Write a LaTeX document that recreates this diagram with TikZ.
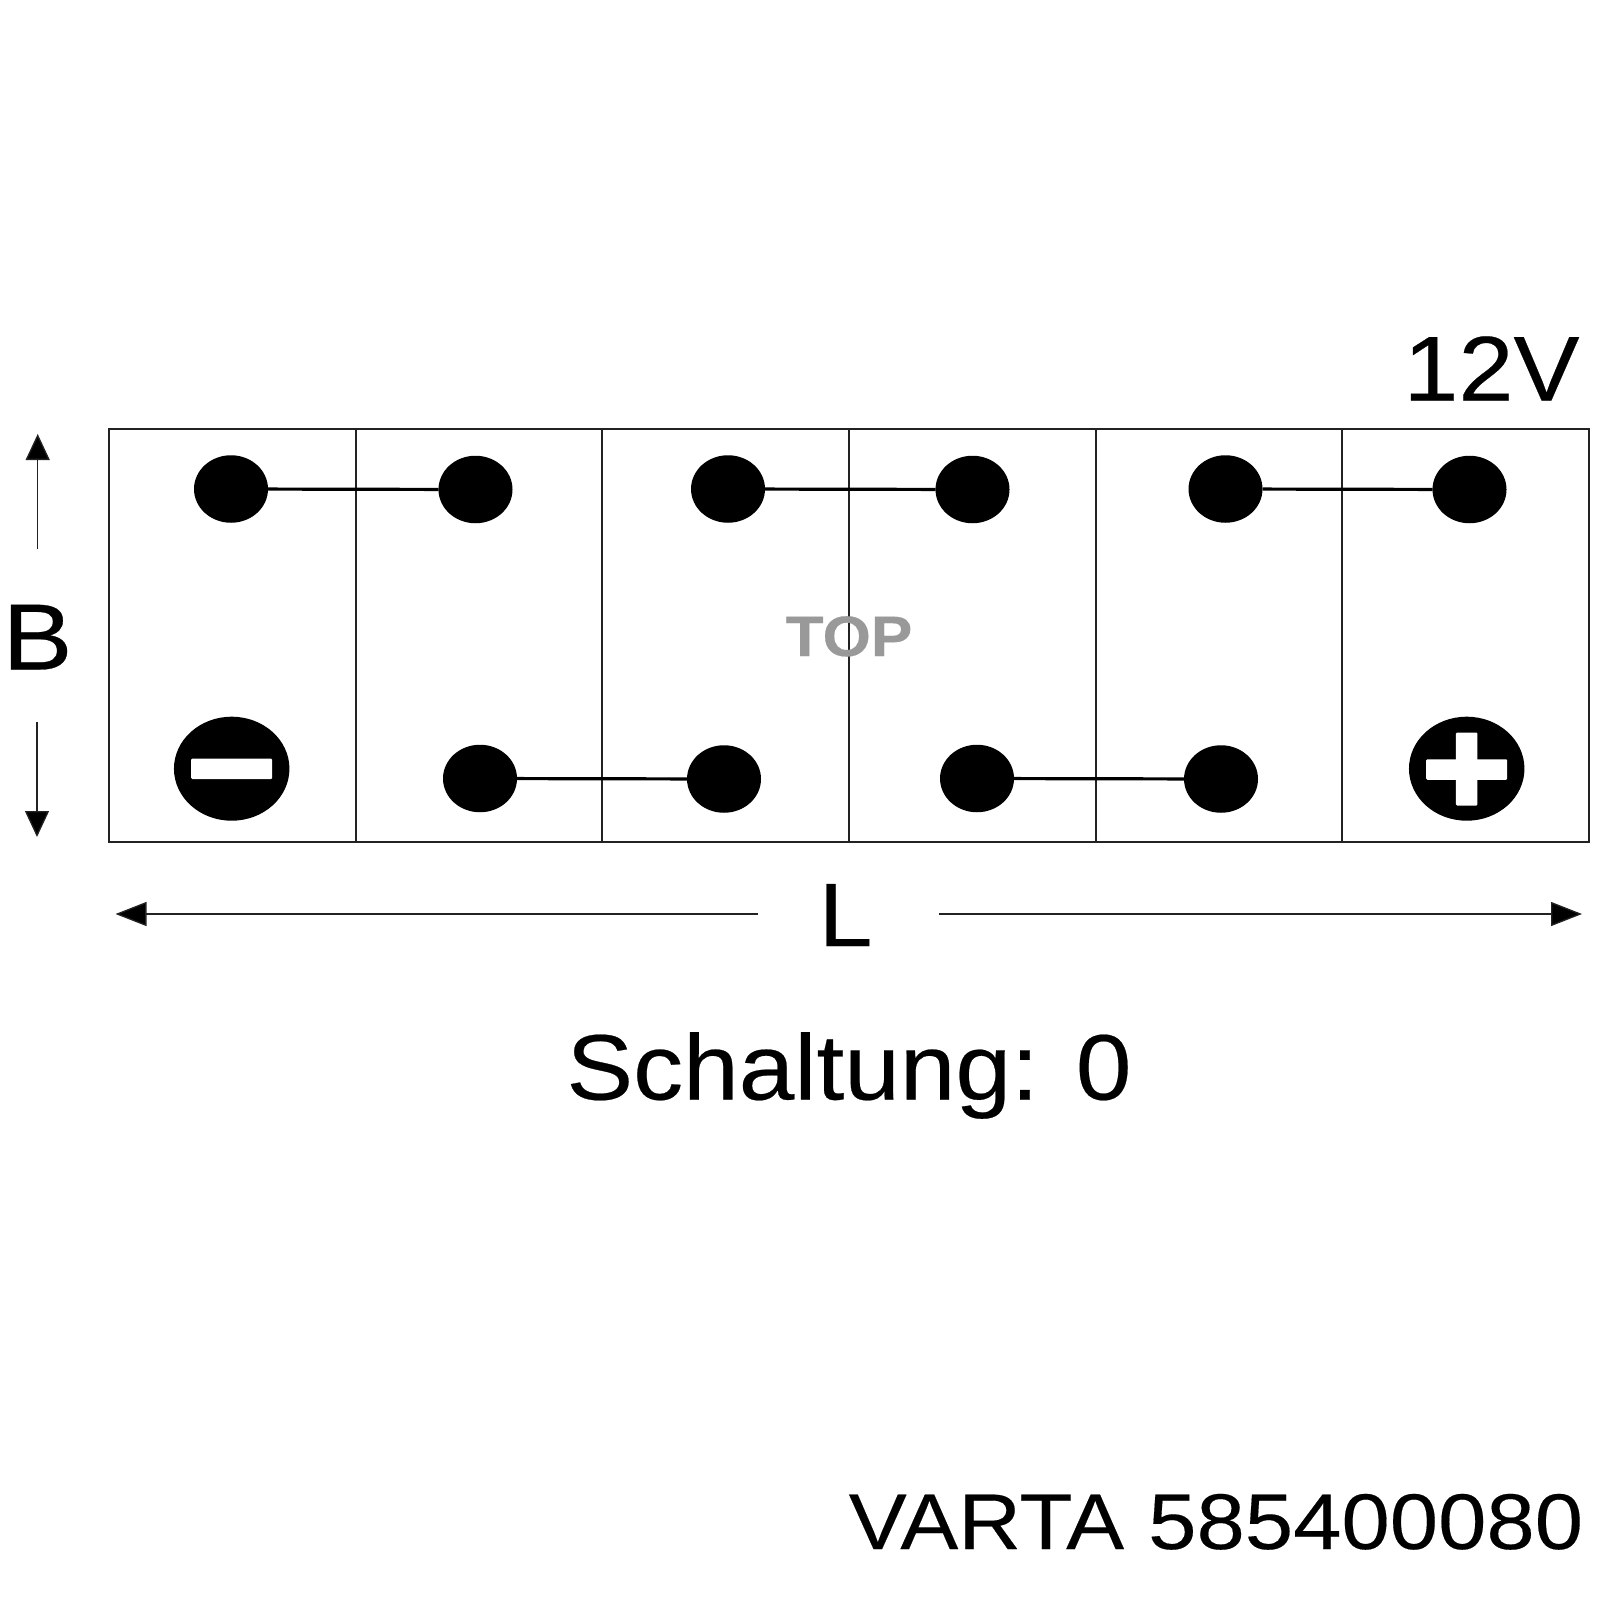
\documentclass[tikz,border=0pt]{standalone}
\usepackage{fontspec}
\setmainfont{Liberation Sans}
\newfontfamily\widefont[FakeStretch=1.075,FakeBold=0.25]{Liberation Sans}
\newfontfamily\widerfont[FakeStretch=1.10,FakeBold=0.2]{Liberation Sans}
\newfontfamily\widestfont[FakeStretch=1.12,FakeBold=0.3]{Liberation Sans}
\newfontfamily\topfont[FakeStretch=1.09,FakeBold=0.3]{Liberation Sans Bold}
\usetikzlibrary{shapes.geometric,arrows.meta}
\definecolor{linegrey}{HTML}{222222}
\definecolor{topgrey}{HTML}{999999}
\newcommand{\pxfont}[1]{\fontsize{#1pt}{#1pt}\selectfont}
\tikzset{
  x=1pt,y=-1pt,
  cell/.style={draw=linegrey,line width=1.9pt,minimum width=246.67pt,minimum height=412.4pt,inner sep=0pt,outer sep=0pt,fill=none},
  post/.style={ellipse,fill=black,draw=none,minimum width=74pt,minimum height=67.5pt,inner sep=0pt,outer sep=0pt},
  terminal/.style={ellipse,fill=black,draw=none,minimum width=115.5pt,minimum height=104pt,inner sep=0pt,outer sep=0pt},
  link/.style={draw=black,line width=3.2pt},
  bar/.style={fill=white,draw=none,rounded corners=1.2pt,inner sep=0pt,outer sep=0pt},
  dim/.style={draw=linegrey,line width=1.3pt,-{Triangle[length=26pt,width=24pt,fill=black]}},
  dimlong/.style={draw=linegrey,line width=1.3pt,-{Triangle[length=31pt,width=24pt,fill=black]}},
  label/.style={anchor=base,inner sep=0pt,outer sep=0pt,text=black},
}
\begin{document}
\begin{tikzpicture}
\useasboundingbox[fill=white] (0,0) rectangle (1600,1600);
% cells
\foreach \n [count=\i from 0] in {a,b,c,d,e,f}{
  \node[cell] (\n) at ({109+246.67*\i+123.33},635.6) {};
}
% posts
\node[post] (p1) at (231,489) {};
\node[post] (p2) at (475.5,489.5) {};
\node[post] (p3) at (728,489) {};
\node[post] (p4) at (972.5,489.5) {};
\node[post] (p5) at (1225.5,489) {};
\node[post] (p6) at (1469.5,489.5) {};
\node[post] (q1) at (480,778.5) {};
\node[post] (q2) at (724,779) {};
\node[post] (q3) at (977,778.5) {};
\node[post] (q4) at (1221,779) {};
\draw[link] (p1) -- (p2);
\draw[link] (p3) -- (p4);
\draw[link] (p5) -- (p6);
\draw[link] (q1) -- (q2);
\draw[link] (q3) -- (q4);
% terminals
\node[terminal] (minus) at (231.7,768.7) {};
\node[bar,minimum width=81pt,minimum height=20.5pt] (minusbar) at (231.7,768.8) {};
\node[terminal] (plus) at (1466.7,768.7) {};
\node[bar,minimum width=81pt,minimum height=20.5pt] (plush) at (1466.7,769.5) {};
\node[bar,minimum width=21.5pt,minimum height=73pt] (plusv) at (1466.7,769) {};
% dimension arrows
\coordinate (bu0) at (37.7,549);
\coordinate (bu1) at (37.7,434);
\coordinate (bd0) at (37,722);
\coordinate (bd1) at (37,837);
\coordinate (ll0) at (758,914);
\coordinate (ll1) at (115.5,914);
\coordinate (lr0) at (939,914);
\coordinate (lr1) at (1582,914);
\draw[dim] (bu0) -- (bu1);
\draw[dim] (bd0) -- (bd1);
\draw[dimlong] (ll0) -- (ll1);
\draw[dimlong] (lr0) -- (lr1);
% texts
\node[label,font={\widefont\pxfont{92}}] (v12) at (1491.5,400.5) {12V};
\node[label,font={\widestfont\pxfont{94}}] (bl) at (37.5,669.5) {B};
\node[label,font={\widefont\pxfont{90}}] (ll) at (845.5,946) {L};
\node[label,font={\widefont\pxfont{93}}] (sch) at (849,1099.5) {Schaltung: 0};
\node[label,font={\widerfont\pxfont{79}}] (var) at (1216,1549) {VARTA 585400080};
\node[label,font={\topfont\pxfont{57}},text=topgrey] (top) at (849,656) {TOP};
\end{tikzpicture}
\end{document}
